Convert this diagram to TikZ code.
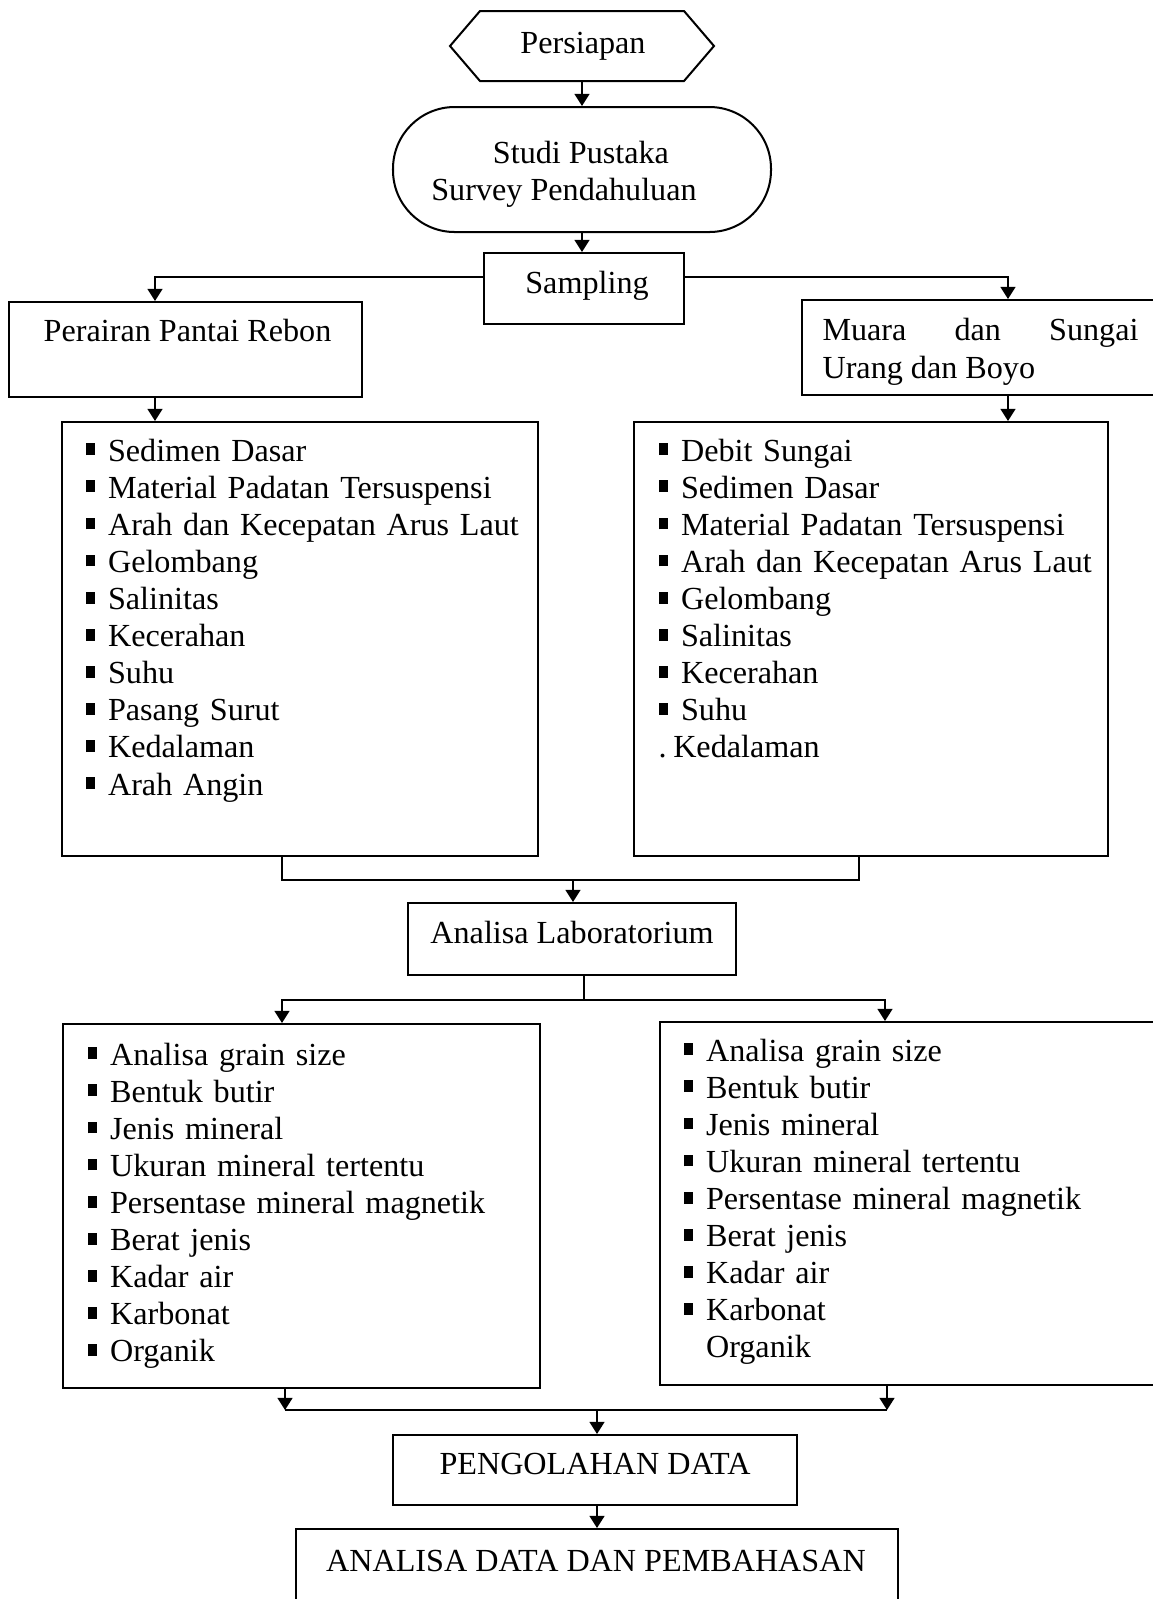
\documentclass[tikz,border=0pt]{standalone}
\usepackage{fontspec}
\setmainfont{Liberation Serif}
\usetikzlibrary{arrows.meta}

\newcommand{\pxu}{0.3731pt}
\newcommand{\bitem}{\makebox[8.4pt][l]{\rule[2.2pt]{3.6pt}{4.4pt}}}

\begin{document}
\begin{tikzpicture}[x=0.3731pt,y=-0.3731pt]
\useasboundingbox (0,0) rectangle (1153,1599);
\clip (0,0) rectangle (1153,1599);
\tikzstyle{box} = [rectangle,draw=black,line width=0.75pt,inner sep=0pt]
\tikzstyle{lbl} = [anchor=base,inner sep=0pt,font=\fontsize{12pt}{13.7pt}\selectfont]
\tikzstyle{items} = [anchor=base west,inner sep=0pt,align=left,text width=175pt,font=\fontsize{12pt}{13.85pt}\selectfont]
\tikzstyle{arr} = [line width=0.75pt,-{Triangle[width=5.5pt,length=4.5pt]}]
\tikzstyle{wire} = [line width=0.75pt]
%%%%%%%%%%%%%%%%%%%%%%%%%%%%
% persiapan, studi pustaka, sampling
%%%%%%%%%%%%%%%%%%%%%%%%%%%%
\node [box,draw=none,minimum width=262*\pxu,minimum height=68*\pxu] (prep) at (582,46){};
\draw [wire] (prep.west) -- ([xshift=30*\pxu]prep.north west) -- ([xshift=-30*\pxu]prep.north east) -- (prep.east) -- ([xshift=-30*\pxu]prep.south east) -- ([xshift=30*\pxu]prep.south west) -- cycle;
\node [lbl] (t_prep) at (583,53){Persiapan};
\node [box,rounded corners=23pt,minimum width=378*\pxu,minimum height=125*\pxu] (studi) at (582,169.5){};
\node [lbl] (t_studi) at (581,163){Studi Pustaka};
\node [lbl] (t_studi_1) at (564,200){Survey Pendahuluan};
\node [box,minimum width=200*\pxu,minimum height=71*\pxu] (samp) at (584,288.5){};
\node [lbl] (t_samp) at (587,293){Sampling};
%%%%%%%%%%%%%%%%%%%%%%%%%%%%
% lokasi
%%%%%%%%%%%%%%%%%%%%%%%%%%%%
\node [box,minimum width=353*\pxu,minimum height=95*\pxu] (peri) at (185.5,349.5){};
\node [lbl] (t_peri) at (187.5,341){Perairan Pantai Rebon};
\node [box,minimum width=412*\pxu,minimum height=95*\pxu] (muara) at (1008,347.5){};
\node [lbl,anchor=base west] (t_muara) at (822,340){\makebox[117.9pt][s]{Muara dan Sungai}};
\node [lbl,anchor=base west] (t_muara_1) at (822,378){Urang dan Boyo};
%%%%%%%%%%%%%%%%%%%%%%%%%%%%
% parameter lapangan
%%%%%%%%%%%%%%%%%%%%%%%%%%%%
\node [box,minimum width=476*\pxu,minimum height=434*\pxu] (list1) at (300,639){};
\node [items] (t_list1) at (85,461){\bitem Sedimen Dasar\\ \bitem Material Padatan Tersuspensi\\ \bitem Arah dan Kecepatan Arus Laut\\ \bitem Gelombang\\ \bitem Salinitas\\ \bitem Kecerahan\\ \bitem Suhu\\ \bitem Pasang Surut\\ \bitem Kedalaman\\ \bitem Arah Angin};
\node [box,minimum width=474*\pxu,minimum height=434*\pxu] (list2) at (871,639){};
\node [items] (t_list2) at (658,461){\bitem Debit Sungai\\ \bitem Sedimen Dasar\\ \bitem Material Padatan Tersuspensi\\ \bitem Arah dan Kecepatan Arus Laut\\ \bitem Gelombang\\ \bitem Salinitas\\ \bitem Kecerahan\\ \bitem Suhu\\ .\hspace{2.5pt}Kedalaman};
%%%%%%%%%%%%%%%%%%%%%%%%%%%%
% laboratorium
%%%%%%%%%%%%%%%%%%%%%%%%%%%%
\node [box,minimum width=328*\pxu,minimum height=72*\pxu] (lab) at (572,939){};
\node [lbl] (t_lab) at (572,943){Analisa Laboratorium};
\node [box,minimum width=477*\pxu,minimum height=364*\pxu] (list3) at (301.5,1206){};
\node [items] (t_list3) at (87,1065){\bitem Analisa grain size\\ \bitem Bentuk butir\\ \bitem Jenis mineral\\ \bitem Ukuran mineral tertentu\\ \bitem Persentase mineral magnetik\\ \bitem Berat jenis\\ \bitem Kadar air\\ \bitem Karbonat\\ \bitem Organik};
\node [box,minimum width=520*\pxu,minimum height=363*\pxu] (list4) at (920,1203.5){};
\node [items] (t_list4) at (683,1061){\bitem Analisa grain size\\ \bitem Bentuk butir\\ \bitem Jenis mineral\\ \bitem Ukuran mineral tertentu\\ \bitem Persentase mineral magnetik\\ \bitem Berat jenis\\ \bitem Kadar air\\ \bitem Karbonat\\ \makebox[8.4pt]{}Organik};
%%%%%%%%%%%%%%%%%%%%%%%%%%%%
% pengolahan dan analisa
%%%%%%%%%%%%%%%%%%%%%%%%%%%%
\node [box,minimum width=404*\pxu,minimum height=70*\pxu] (peng) at (595,1470){};
\node [lbl] (t_peng) at (595,1474){PENGOLAHAN DATA};
\node [box,minimum width=602*\pxu,minimum height=100*\pxu] (anal) at (597,1579){};
\node [lbl] (t_anal) at (596,1571){ANALISA DATA DAN PEMBAHASAN};
%%%%%%%%%%%%%%%%%%%%%%%%%%%%
% panah
%%%%%%%%%%%%%%%%%%%%%%%%%%%%
\draw [arr] (prep.south) -- (prep.south |- studi.north);
\draw [arr] (studi.south) -- (studi.south |- samp.north);
\draw [arr] ([yshift=11.5*\pxu]samp.west) -| ([xshift=-30.5*\pxu]peri.north);
\draw [arr] ([yshift=11.5*\pxu]samp.east) -| (muara.north);
\coordinate (p1) at ([xshift=-30.5*\pxu]peri.south);
\draw [arr] (p1) -- (p1 |- list1.north);
\draw [arr] (muara.south) -- (muara.south |- list2.north);
\coordinate (j1) at (573,880);
\draw [wire] ([xshift=-18*\pxu]list1.south) |- (j1) -| ([xshift=-12*\pxu]list2.south);
\draw [arr] (j1) -- (j1 |- lab.north);
\coordinate (j2) at (584,1000);
\draw [wire] (lab.south -| j2) -- (j2);
\draw [arr] (j2) -| ([xshift=-19.5*\pxu]list3.north);
\draw [arr] (j2) -| ([xshift=-35*\pxu]list4.north);
\coordinate (j3) at (597,1410);
\coordinate (d3) at ([xshift=-16.5*\pxu]list3.south);
\coordinate (d4) at ([xshift=-33*\pxu]list4.south);
\draw [arr] (d3) -- (d3 |- j3);
\draw [arr] (d4) -- (d4 |- j3);
\draw [wire] (d3 |- j3) -- (d4 |- j3);
\draw [arr] (j3) -- (j3 |- peng.north);
\draw [arr] (peng.south -| j3) -- (j3 |- anal.north);
\end{tikzpicture}
\end{document}
